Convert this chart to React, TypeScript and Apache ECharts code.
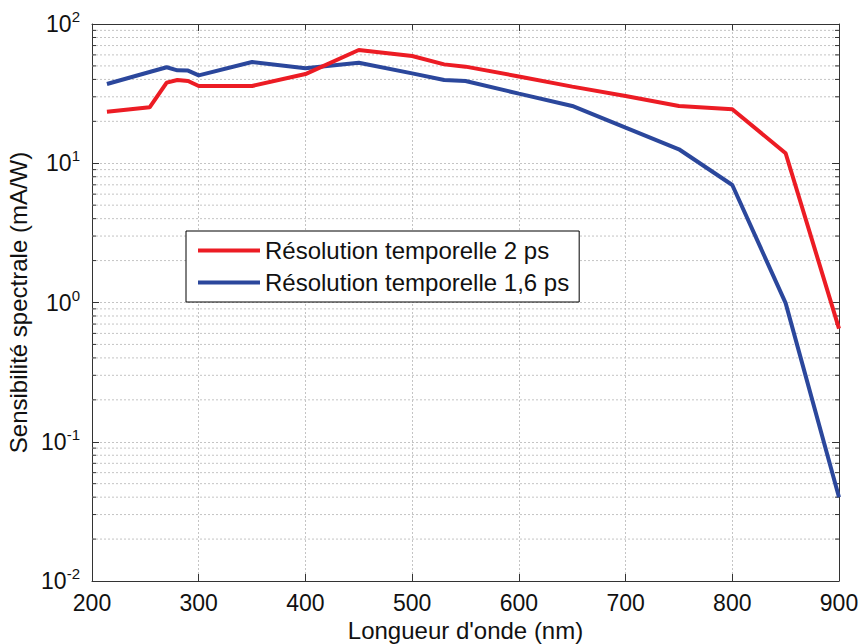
import React, { useEffect, useRef } from "react";
import * as echarts from "echarts";

const wlRed = [214, 254, 270, 280, 290, 300, 350, 400, 450, 500, 530, 550, 600, 650, 700, 750, 800, 850, 900];
const sensRed = [23.4, 25.2, 37.9, 39.6, 39.0, 35.9, 35.9, 43.7, 65.1, 58.9, 51.3, 49.4, 42.0, 35.5, 30.4, 25.8, 24.4, 11.8, 0.65];
const wlBlue = [214, 254, 270, 280, 290, 300, 350, 400, 450, 500, 530, 550, 600, 650, 700, 750, 800, 850, 900];
const sensBlue = [37.1, 45.2, 48.9, 46.5, 46.3, 42.8, 53.3, 48.1, 52.7, 44.2, 39.6, 39.0, 31.6, 25.8, 18.0, 12.6, 6.98, 0.99, 0.040];
const seriesNames = ["Résolution temporelle 2 ps", "Résolution temporelle 1,6 ps"];
const decades = [0.01, 0.1, 1, 10];
const minorMultipliers = [2, 3, 4, 5, 6, 7, 8, 9];
const xTitle = "Longueur d'onde (nm)";
const yTitle = "Sensibilité spectrale (mA/W)";

const FONT = "Liberation Sans, Arial, sans-serif";
const RED = "#ec1c24";
const BLUE = "#2b479c";
const GRID = "#c4c4c4";
const AXIS = "#333333";

export default function App() {
  const ref = useRef<HTMLDivElement>(null);
  useEffect(() => {
    if (!ref.current) return;
    const chart = echarts.init(ref.current, null, { renderer: "svg" });
    const minorVals: number[] = [];
    decades.forEach((d) => minorMultipliers.forEach((m) => minorVals.push(+(d * m).toPrecision(3))));

    const expLabel = (v: number) => {
      const e = Math.round(Math.log10(v));
      return "{b|10}{s|" + e + "}";
    };

    chart.setOption({
      animation: false,
      backgroundColor: "#ffffff",
      textStyle: { fontFamily: FONT },
      grid: {
        left: 92,
        right: 22,
        top: 24,
        bottom: 63,
        containLabel: false,
        outerBoundsMode: "none",
      },
      legend: {
        orient: "vertical",
        left: 186,
        top: 231,
        data: seriesNames.map((n) => ({ name: n, icon: "rect" })),
        itemWidth: 62,
        itemHeight: 4,
        itemGap: 7,
        itemTextGap: 8,
        padding: [7, 10, 7, 12],
        borderColor: "#000",
        borderWidth: 1,
        backgroundColor: "#fff",
        textStyle: { fontFamily: FONT, fontSize: 24, color: "#111", lineHeight: 25 },
      },
      xAxis: [
        {
          type: "value",
          min: 200,
          max: 900,
          interval: 100,
          name: xTitle,
          nameLocation: "middle",
          nameGap: 34,
          nameTextStyle: { fontFamily: FONT, fontSize: 24, color: "#111" },
          axisLine: { show: true, lineStyle: { color: AXIS, width: 1 } },
          axisTick: { show: true, inside: true, length: 7, lineStyle: { color: AXIS } },
          axisLabel: { fontFamily: FONT, fontSize: 23, color: "#111", margin: 10 },
          splitLine: { show: true, lineStyle: { color: GRID, type: [2, 2], width: 1 } },
        },
        {
          type: "value",
          position: "top",
          min: 200,
          max: 900,
          interval: 100,
          axisLine: { show: true, lineStyle: { color: AXIS, width: 1 } },
          axisTick: { show: true, inside: true, length: 7, lineStyle: { color: AXIS } },
          axisLabel: { show: false },
          splitLine: { show: false },
        },
      ],
      yAxis: [
        {
          type: "log",
          logBase: 10,
          min: 0.01,
          max: 100,
          name: yTitle,
          nameLocation: "middle",
          nameGap: 58,
          nameTextStyle: { fontFamily: FONT, fontSize: 24, color: "#111" },
          axisLine: { show: true, lineStyle: { color: AXIS, width: 1 } },
          axisTick: { show: true, inside: true, length: 7, lineStyle: { color: AXIS } },
          axisLabel: {
            margin: 12,
            formatter: expLabel,
            rich: {
              b: { fontFamily: FONT, fontSize: 23, color: "#111" },
              s: { fontFamily: FONT, fontSize: 15, color: "#111", padding: [0, 0, 15, 0] },
            },
          },
          splitLine: { show: true, lineStyle: { color: GRID, type: [2, 2], width: 1 } },
        },
        {
          type: "log",
          logBase: 10,
          min: 0.01,
          max: 100,
          position: "right",
          axisLine: { show: true, lineStyle: { color: AXIS, width: 1 } },
          axisTick: { show: true, inside: true, length: 7, lineStyle: { color: AXIS } },
          axisLabel: { show: false },
          splitLine: { show: false },
        },
      ],
      series: [
        {
          type: "custom",
          silent: true,
          z: 1,
          xAxisIndex: 0,
          yAxisIndex: 0,
          data: minorVals.map((v) => [200, v]),
          encode: { x: 0, y: 1 },
          renderItem: (params: any, api: any) => {
            const cs = params.coordSys;
            const y = api.coord([200, api.value(1)])[1];
            return {
              type: "group",
              children: [
                {
                  type: "line",
                  shape: { x1: cs.x, y1: y, x2: cs.x + cs.width, y2: y },
                  style: { stroke: GRID, lineWidth: 1, lineDash: [2, 2] },
                },
                {
                  type: "line",
                  shape: { x1: cs.x, y1: y, x2: cs.x + 4, y2: y },
                  style: { stroke: AXIS, lineWidth: 1 },
                },
                {
                  type: "line",
                  shape: { x1: cs.x + cs.width - 4, y1: y, x2: cs.x + cs.width, y2: y },
                  style: { stroke: AXIS, lineWidth: 1 },
                },
              ],
            };
          },
        },
        {
          name: seriesNames[0],
          type: "line",
          z: 5,
          showSymbol: false,
          symbol: "none",
          color: RED,
          lineStyle: { color: RED, width: 4 },
          data: wlRed.map((x, i) => [x, sensRed[i]]),
        },
        {
          name: seriesNames[1],
          type: "line",
          z: 4,
          showSymbol: false,
          symbol: "none",
          color: BLUE,
          lineStyle: { color: BLUE, width: 4 },
          data: wlBlue.map((x, i) => [x, sensBlue[i]]),
        },
      ],
    });
    return () => chart.dispose();
  }, []);
  return (
    <div
      ref={ref}
      style={{ position: "fixed", left: 0, top: 0, width: 861, height: 644, background: "#fff" }}
    />
  );
}
